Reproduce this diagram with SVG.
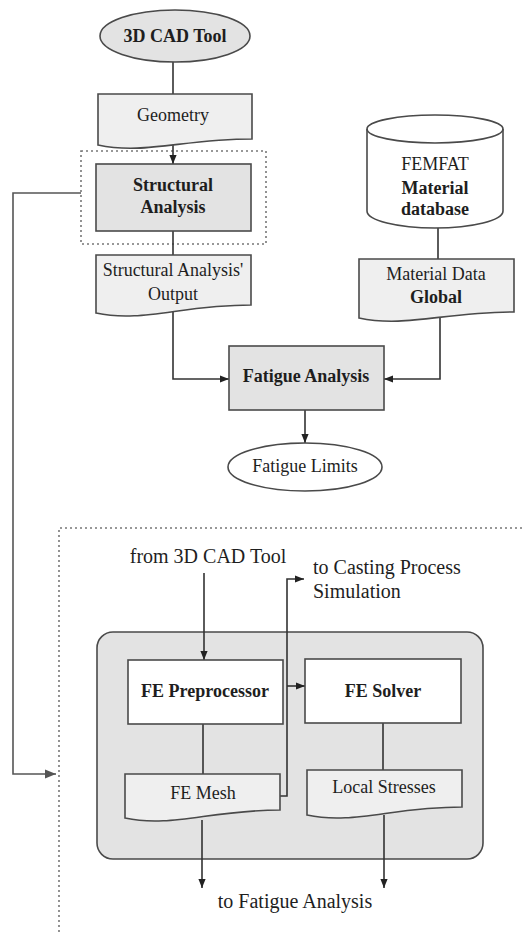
<svg xmlns="http://www.w3.org/2000/svg" width="523" height="935" viewBox="0 0 523 935">
<style>
text{font-family:"Liberation Serif","Times New Roman",serif;fill:#1e1e1e;font-size:18px;text-anchor:middle}
.b{font-weight:bold}
.big{font-size:20px}
.st{text-anchor:start}
.shape{stroke:#4a4a4a;stroke-width:1.6}
.g1{fill:#e3e3e3}
.g2{fill:#efefef}
.w{fill:#fff}
.ln{fill:none;stroke:#333;stroke-width:1.6}
.gl{fill:none;stroke:#555;stroke-width:1.6}
.dot{fill:none;stroke:#777;stroke-width:1.6;stroke-dasharray:2 3}
</style>
<defs>
<marker id="ah" viewBox="0 0 10 10" refX="10" refY="5" markerWidth="9" markerHeight="9" markerUnits="userSpaceOnUse" orient="auto">
<path d="M0,1 L10,5 L0,9 Z" fill="#222"/>
</marker>
<marker id="ahg" viewBox="0 0 10 10" refX="10" refY="5" markerWidth="11" markerHeight="11" markerUnits="userSpaceOnUse" orient="auto">
<path d="M0,1 L10,5 L0,9 Z" fill="#555"/>
</marker>
</defs>
<rect width="523" height="935" fill="#fff"/>

<g id="frames">
<rect class="dot" x="81" y="151" width="185" height="93"/>
<path class="dot" d="M59,932 V528 H523"/>
</g>

<g id="fe-container">
<rect class="shape g1" x="97" y="632" width="386" height="227" rx="16" ry="16"/>
</g>

<g id="connectors">
<line class="ln" x1="173" y1="62" x2="173" y2="94"/>
<line class="ln" x1="173" y1="142" x2="173" y2="164" marker-end="url(#ah)"/>
<line class="ln" x1="173" y1="231" x2="173" y2="255"/>
<path class="ln" d="M173,312 V379 H229" marker-end="url(#ah)"/>
<line class="ln" x1="438" y1="228" x2="438" y2="259"/>
<path class="ln" d="M440,314 V379 H384" marker-end="url(#ah)"/>
<line class="ln" x1="305" y1="410" x2="305" y2="443" marker-end="url(#ah)"/>
<path class="gl" d="M81,193 H13 V774 H56" marker-end="url(#ahg)"/>
<line class="ln" x1="204" y1="573" x2="204" y2="660" marker-end="url(#ah)"/>
<path class="ln" d="M280,796 H287 V579 H304" marker-end="url(#ah)"/>
<line class="ln" x1="287" y1="686" x2="305" y2="686" marker-end="url(#ah)"/>
<line class="ln" x1="203" y1="724" x2="203" y2="774"/>
<line class="ln" x1="383" y1="723" x2="383" y2="770"/>
<line class="ln" x1="202" y1="820" x2="202" y2="888" marker-end="url(#ah)"/>
<line class="ln" x1="384" y1="815" x2="384" y2="888" marker-end="url(#ah)"/>
</g>

<g id="cad-tool">
<ellipse class="shape g1" cx="175" cy="36" rx="75" ry="26"/>
<text class="b" x="175" y="42">3D CAD Tool</text>
</g>

<g id="geometry">
<path class="shape g2" d="M98,94 H252 V139 C183,139 144,155 98,145 Z"/>
<text x="173" y="121">Geometry</text>
</g>

<g id="structural-analysis">
<rect class="shape g1" x="96" y="164" width="155" height="67"/>
<text class="b" x="173" y="191">Structural</text>
<text class="b" x="173" y="213">Analysis</text>
</g>

<g id="structural-output">
<path class="shape g2" d="M96,255 H251 V305 C181,305 142,323 96,313 Z"/>
<text x="173" y="276">Structural Analysis'</text>
<text x="173" y="300">Output</text>
</g>

<g id="femfat-db">
<path class="shape w" d="M367,129 A68,14 0 0,1 503,129 V211 A68,17 0 0,1 367,211 Z"/>
<path class="shape" fill="none" d="M367,129 A68,14 0 0,0 503,129"/>
<text x="435" y="170">FEMFAT</text>
<text class="b" x="435" y="194">Material</text>
<text class="b" x="435" y="215">database</text>
</g>

<g id="material-data">
<path class="shape g2" d="M359,259 H514 V312 C444,312 405,328 359,318 Z"/>
<text x="436" y="280">Material Data</text>
<text class="b" x="436" y="303">Global</text>
</g>

<g id="fatigue-analysis">
<rect class="shape g1" x="229" y="346" width="155" height="64"/>
<text class="b" x="306" y="382">Fatigue Analysis</text>
</g>

<g id="fatigue-limits">
<ellipse class="shape w" cx="305" cy="467" rx="77" ry="24"/>
<text x="305" y="472">Fatigue Limits</text>
</g>

<g id="from-cad-label">
<text class="big" x="208" y="563">from 3D CAD Tool</text>
</g>

<g id="casting-label">
<text class="big st" x="313" y="574">to Casting Process</text>
<text class="big st" x="313" y="598">Simulation</text>
</g>

<g id="fe-preprocessor">
<rect class="shape w" x="128" y="660" width="155" height="64"/>
<text class="b" x="205" y="697">FE Preprocessor</text>
</g>

<g id="fe-solver">
<rect class="shape w" x="305" y="659" width="156" height="64"/>
<text class="b" x="383" y="697">FE Solver</text>
</g>

<g id="fe-mesh">
<path class="shape g2" d="M125,774 H280 V810 C210,810 171,828 125,818 Z"/>
<text x="203" y="799">FE Mesh</text>
</g>

<g id="local-stresses">
<path class="shape g2" d="M307,770 H462 V807 C392,807 353,825 307,815 Z"/>
<text x="384" y="793">Local Stresses</text>
</g>

<g id="to-fatigue-label">
<text class="big" x="295" y="908">to Fatigue Analysis</text>
</g>
</svg>
